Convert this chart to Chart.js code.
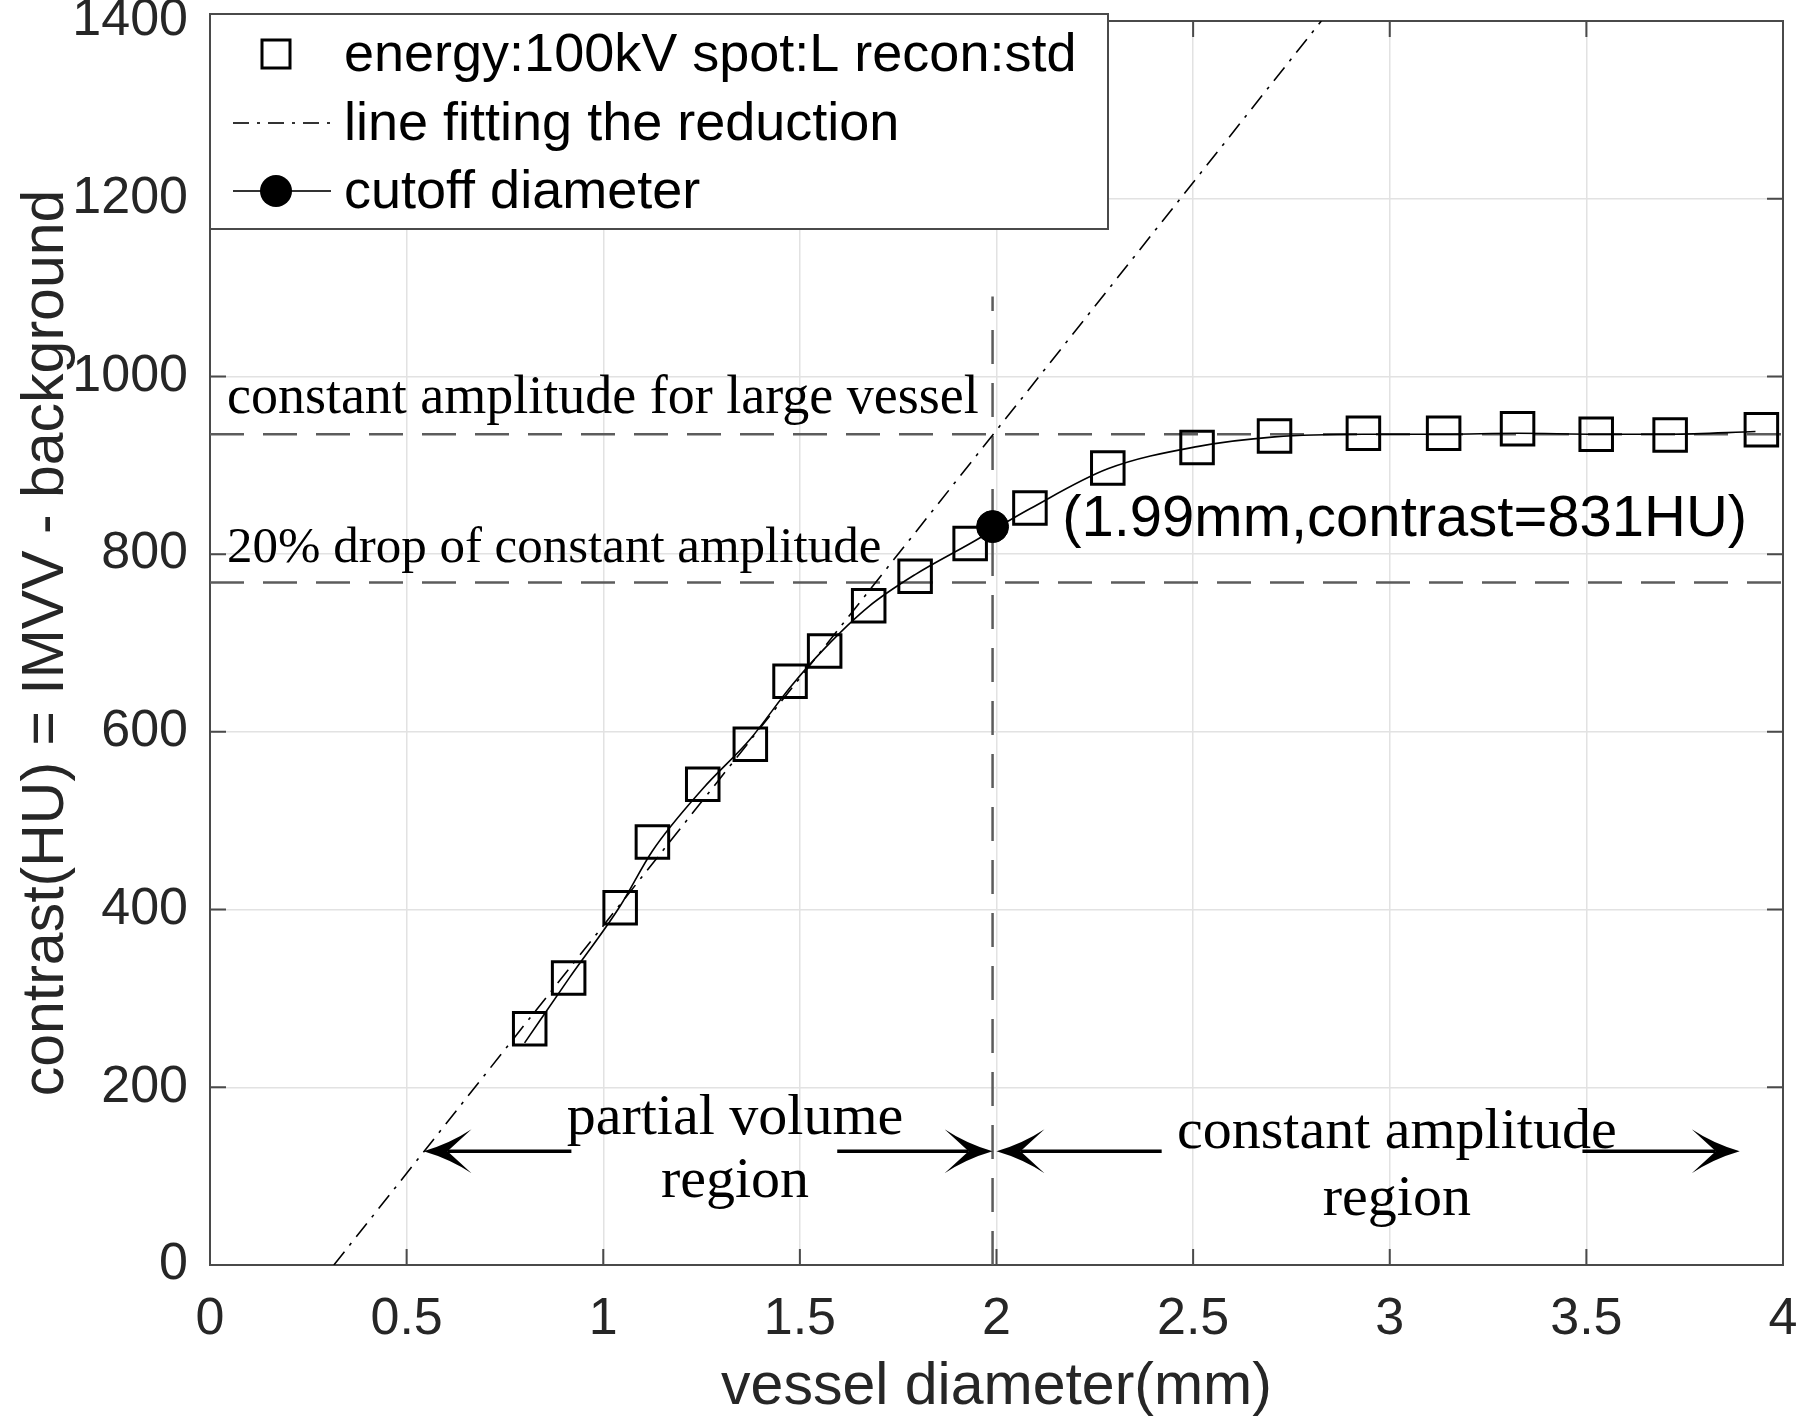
<!DOCTYPE html>
<html>
<head>
<meta charset="utf-8">
<script src="https://cdn.jsdelivr.net/npm/chart.js@4.4.1/dist/chart.umd.min.js"></script>
<style>
    html, body { margin: 0; padding: 0; background: #fff; }
    #chart_contrast { display: block; }
</style>
</head>
<body>
<canvas id="chart_contrast" width="1800" height="1423"></canvas>
<script>
// measured points: vessel diameter (mm) vs contrast (HU)
var diameter_mm = [0.813, 0.912, 1.043, 1.125, 1.253, 1.374, 1.475, 1.563, 1.675, 1.793, 1.933,
    2.085, 2.283, 2.51, 2.707, 2.933, 3.137, 3.325, 3.525, 3.713, 3.945];
var contrast_hu = [266, 323, 402, 476, 541, 586, 657, 691, 742, 775, 812,
    852, 897, 920, 933, 936, 936, 941, 935, 934, 940];

// smooth curve drawn through the squares
var curve_x = [0.80, 0.912, 1.043, 1.125, 1.253, 1.374, 1.475, 1.563, 1.675, 1.793, 1.933,
    2.085, 2.283, 2.51, 2.707, 2.933, 3.137, 3.325, 3.525, 3.713, 3.93];
var curve_y = [250, 322, 404, 466, 536, 592, 650, 694, 741, 777, 812,
    851, 896, 921, 932, 935, 935, 936, 935, 935, 938];

// line fitting the reduction (two ends)
var fit_x = [0.315, 2.826];
var fit_y = [0, 1400];

// reference levels and cutoff
var level_large = 935;
var level_drop = 768;
var cutoff_x = 1.99;
var cutoff_y = 831;
var cutoff_line_top = 1090;

var x_range = [0, 4];
var y_range = [0, 1400];

var legend_labels = ['energy:100kV spot:L recon:std', 'line fitting the reduction', 'cutoff diameter'];

var sansFont = "'Liberation Sans', Arial, Helvetica, sans-serif";
var serifFont = "'Liberation Serif', 'Times New Roman', serif";

// text notes, placed in data units
var notes = [
    {text: 'constant amplitude for large vessel', x: 0.043, y: 959, size: 54, font: serifFont, align: 'left'},
    {text: '20% drop of constant amplitude', x: 0.043, y: 791, size: 51, font: serifFont, align: 'left'},
    {text: '(1.99mm,contrast=831HU)', x: 2.167, y: 820, size: 58, font: sansFont, align: 'left'},
    {text: 'partial volume', x: 1.335, y: 147, size: 58, font: serifFont, align: 'center'},
    {text: 'region', x: 1.335, y: 77, size: 58, font: serifFont, align: 'center'},
    {text: 'constant amplitude', x: 3.018, y: 132, size: 58, font: serifFont, align: 'center'},
    {text: 'region', x: 3.018, y: 56, size: 58, font: serifFont, align: 'center'}
];

// region arrows (from -> to) at one height
var arrow_y = 128;
var arrows = [
    {from: 0.919, to: 0.543},
    {from: 1.595, to: 1.99},
    {from: 2.42, to: 2.0},
    {from: 3.49, to: 3.89}
];

function toPoints(xs, ys) {
    var pts = [];
    for (var i = 0; i < xs.length; ++i) {
        pts.push({x: xs[i], y: ys[i]});
    }
    return pts;
}

function drawArrow(ctx, x1, x2, y) {
    var dir = x2 > x1 ? 1 : -1;
    var len = 48, half = 22;
    ctx.beginPath();
    ctx.moveTo(x1, y);
    ctx.lineTo(x2 - dir * len * 0.5, y);
    ctx.lineWidth = 3.5;
    ctx.stroke();
    ctx.beginPath();
    ctx.moveTo(x2, y);
    ctx.quadraticCurveTo(x2 - dir * len * 0.55, y - half * 0.35, x2 - dir * len, y - half);
    ctx.lineTo(x2 - dir * len * 0.5, y);
    ctx.lineTo(x2 - dir * len, y + half);
    ctx.quadraticCurveTo(x2 - dir * len * 0.55, y + half * 0.35, x2, y);
    ctx.closePath();
    ctx.fill();
}

// box round the axes with inward ticks on all four sides
var frame_plugin = {
    id: 'frame',
    beforeDatasetsDraw: function (chart) {
        var ctx = chart.ctx;
        var a = chart.chartArea;
        var xs = chart.scales.x, ys = chart.scales.y;
        var tick = 16;
        ctx.save();
        ctx.strokeStyle = '#4a4a4a';
        ctx.lineWidth = 2;
        ctx.beginPath();
        xs.ticks.forEach(function (t) {
            var px = xs.getPixelForValue(t.value);
            ctx.moveTo(px, a.bottom); ctx.lineTo(px, a.bottom - tick);
            ctx.moveTo(px, a.top); ctx.lineTo(px, a.top + tick);
        });
        ys.ticks.forEach(function (t) {
            var py = ys.getPixelForValue(t.value);
            ctx.moveTo(a.left, py); ctx.lineTo(a.left + tick, py);
            ctx.moveTo(a.right, py); ctx.lineTo(a.right - tick, py);
        });
        ctx.stroke();
        ctx.strokeRect(a.left, a.top, a.right - a.left, a.bottom - a.top);
        ctx.restore();
    }
};

var notes_plugin = {
    id: 'notes',
    afterDatasetsDraw: function (chart) {
        var ctx = chart.ctx;
        var xs = chart.scales.x, ys = chart.scales.y;
        ctx.save();
        ctx.fillStyle = '#000';
        ctx.textBaseline = 'alphabetic';
        notes.forEach(function (n) {
            ctx.font = n.size + 'px ' + n.font;
            ctx.textAlign = n.align;
            ctx.fillText(n.text, xs.getPixelForValue(n.x), ys.getPixelForValue(n.y));
        });
        ctx.strokeStyle = '#000';
        var py = ys.getPixelForValue(arrow_y);
        arrows.forEach(function (ar) {
            drawArrow(ctx, xs.getPixelForValue(ar.from), xs.getPixelForValue(ar.to), py);
        });
        ctx.restore();
    }
};

var legend_plugin = {
    id: 'boxLegend',
    afterDraw: function (chart) {
        var ctx = chart.ctx;
        var a = chart.chartArea;
        var left = a.left, top = a.top - 7, width = 898, height = 215;
        var rows = [top + 40, top + 109, top + 177];
        var mx = left + 66, lx1 = left + 23, lx2 = left + 121, tx = left + 134;
        ctx.save();
        ctx.fillStyle = '#fff';
        ctx.fillRect(left, top, width, height);
        ctx.strokeStyle = '#4a4a4a';
        ctx.lineWidth = 2;
        ctx.strokeRect(left, top, width, height);

        // square marker
        ctx.strokeStyle = '#000';
        ctx.lineWidth = 3;
        ctx.strokeRect(mx - 14, rows[0] - 14, 28, 28);

        // dash-dot sample
        ctx.strokeStyle = '#333';
        ctx.lineWidth = 2;
        ctx.setLineDash([16, 8, 3, 8]);
        ctx.beginPath();
        ctx.moveTo(lx1, rows[1]); ctx.lineTo(lx2, rows[1]);
        ctx.stroke();
        ctx.setLineDash([]);

        // line with filled circle
        ctx.beginPath();
        ctx.moveTo(lx1, rows[2]); ctx.lineTo(lx2, rows[2]);
        ctx.stroke();
        ctx.fillStyle = '#000';
        ctx.beginPath();
        ctx.arc(mx, rows[2], 16, 0, Math.PI * 2);
        ctx.fill();

        ctx.font = '54px ' + sansFont;
        ctx.textAlign = 'left';
        ctx.textBaseline = 'middle';
        for (var i = 0; i < legend_labels.length; ++i) {
            ctx.fillText(legend_labels[i], tx, rows[i] + 2);
        }
        ctx.restore();
    }
};

var dashed_style = {
    borderColor: '#5c5c5c',
    borderWidth: 2.5,
    borderDash: [34, 19],
    pointRadius: 0,
    showLine: true,
    fill: false
};

var chart_ctx = document.getElementById('chart_contrast').getContext('2d');
var chart_config = {
    type: 'scatter',
    data: {
        datasets: [{
            label: 'cutoff diameter',
            data: [{x: cutoff_x, y: cutoff_y}],
            pointStyle: 'circle',
            pointRadius: 16,
            pointBackgroundColor: '#000',
            pointBorderColor: '#000',
            pointBorderWidth: 1
        }, {
            label: 'energy:100kV spot:L recon:std',
            data: toPoints(diameter_mm, contrast_hu),
            showLine: false,
            pointStyle: 'rect',
            pointRadius: 23,
            pointBorderWidth: 3,
            pointBorderColor: '#000',
            pointBackgroundColor: 'rgba(0,0,0,0)'
        }, {
            label: 'curve',
            data: toPoints(curve_x, curve_y),
            showLine: true,
            cubicInterpolationMode: 'monotone',
            borderColor: '#000',
            borderWidth: 1.6,
            pointRadius: 0
        }, {
            label: 'line fitting the reduction',
            data: toPoints(fit_x, fit_y),
            showLine: true,
            borderColor: '#000',
            borderWidth: 1.6,
            borderDash: [17, 8, 3, 8],
            pointRadius: 0
        }, Object.assign({
            label: 'constant amplitude',
            data: toPoints(x_range, [level_large, level_large])
        }, dashed_style), Object.assign({
            label: '20% drop',
            data: toPoints(x_range, [level_drop, level_drop])
        }, dashed_style), Object.assign({
            label: 'cutoff line',
            data: toPoints([cutoff_x, cutoff_x], [0, cutoff_line_top])
        }, dashed_style)]
    },
    options: {
        responsive: false,
        animation: false,
        events: [],
        layout: {autoPadding: false, padding: {top: 21, right: 17, left: 0, bottom: 0}},
        plugins: {
            legend: {display: false},
            tooltip: {enabled: false}
        },
        scales: {
            x: {
                type: 'linear',
                min: x_range[0],
                max: x_range[1],
                ticks: {
                    stepSize: 0.5,
                    padding: 23,
                    maxRotation: 0,
                    autoSkip: false,
                    color: '#262626',
                    font: {family: sansFont, size: 52},
                    callback: function (v) { return String(Math.round(v * 10) / 10); }
                },
                grid: {color: '#e2e2e2', lineWidth: 1.5, drawTicks: false},
                border: {display: false},
                title: {
                    display: true,
                    text: 'vessel diameter(mm)',
                    color: '#262626',
                    font: {family: sansFont, size: 59},
                    padding: {top: 0, bottom: 0}
                },
                afterFit: function (s) {
                    s.height = 158;
                    s.paddingLeft = 0;
                    s.paddingRight = 0;
                }
            },
            y: {
                type: 'linear',
                min: y_range[0],
                max: y_range[1],
                ticks: {
                    stepSize: 200,
                    padding: 22,
                    color: '#262626',
                    font: {family: sansFont, size: 52},
                    callback: function (v) { return String(v); }
                },
                grid: {color: '#e2e2e2', lineWidth: 1.5, drawTicks: false},
                border: {display: false},
                title: {
                    display: true,
                    text: 'contrast(HU) = IMVV - background',
                    color: '#262626',
                    font: {family: sansFont, size: 59},
                    padding: {top: 11, bottom: 0}
                },
                afterFit: function (s) {
                    s.width = 210;
                    s.paddingTop = 0;
                    s.paddingBottom = 0;
                }
            }
        }
    },
    plugins: [frame_plugin, notes_plugin, legend_plugin]
};

var contrast_chart = new Chart(chart_ctx, chart_config);
</script>
</body>
</html>
